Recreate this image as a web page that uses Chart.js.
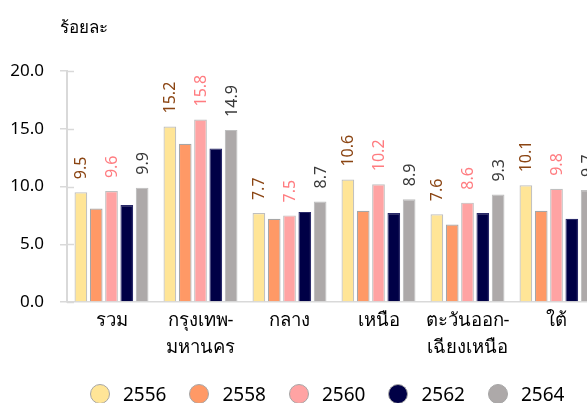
<!DOCTYPE html>
<html>
<head>
<meta charset="utf-8">
<script src="https://cdn.jsdelivr.net/npm/chart.js@4"></script>
<style>
  html, body { margin: 0; padding: 0; background: #fff; overflow: hidden; width: 587px; height: 403px; }
  #wrap { position: absolute; left: 0; top: 0; width: 620px; height: 403px; }
  #unit { position: absolute; left: 60px; top: 13px; font: 17px "Noto Sans", Tahoma, sans-serif; color: #000; }
  #legend { position: absolute; left: 90px; top: 381px; display: flex; align-items: center;
            font: 19px "Noto Sans", Tahoma, sans-serif; color: #000; }
  #legend .it { display: flex; align-items: center; margin-right: 23px; }
  #legend .dot { width: 20px; height: 20px; border-radius: 50%; border: 1px solid #a6a6a6; margin-right: 13px; box-sizing: border-box; }
</style>
</head>
<body>
<div id="wrap"><canvas id="chart" width="620" height="403"></canvas></div>
<div id="unit">ร้อยละ</div>
<div id="legend"></div>
<script>
  // ข้อมูล
  const categories = ["รวม", ["กรุงเทพ-", "มหานคร"], "กลาง", "เหนือ", ["ตะวันออก-", "เฉียงเหนือ"], "ใต้"];
  const years = ["2556", "2558", "2560", "2562", "2564"];
  const v2556 = [9.5, 15.2, 7.7, 10.6, 7.6, 10.1];
  const v2558 = [8.1, 13.7, 7.2, 7.9, 6.7, 7.9];
  const v2560 = [9.6, 15.8, 7.5, 10.2, 8.6, 9.8];
  const v2562 = [8.4, 13.3, 7.8, 7.7, 7.7, 7.2];
  const v2564 = [9.9, 14.9, 8.7, 8.9, 9.3, 9.7];
  const yTicks = [0, 5, 10, 15, 20];

  const fills = ["#FFE597", "#FF9966", "#FFA3A3", "#000046", "#ADA9A9"];
  const borders = ["#BFBFBF", "#A6A6A6", "#BFBFBF", "#2A2A6A", "#BFBFBF"];
  const labelColors = ["#8B4513", null, "#FF7C80", null, "#3A3A3A"];
  const allValues = [v2556, v2558, v2560, v2562, v2564];

  const FONT = '"Noto Sans", Tahoma, sans-serif';

  const datasets = years.map((y, i) => ({
    label: y,
    data: allValues[i],
    backgroundColor: fills[i],
    borderColor: borders[i],
    borderWidth: 1.2,
    categoryPercentage: 0.86,
    barPercentage: 0.83,
    labelColor: labelColors[i],
  }));

  // ป้ายค่าแนวตั้งเหนือแท่ง
  const valueLabels = {
    id: "valueLabels",
    afterDatasetsDraw(chart) {
      const ctx = chart.ctx;
      chart.data.datasets.forEach((ds, di) => {
        if (!ds.labelColor) return;
        const meta = chart.getDatasetMeta(di);
        meta.data.forEach((bar, i) => {
          ctx.save();
          ctx.translate(bar.x, bar.y - 13);
          ctx.rotate(-Math.PI / 2);
          ctx.font = "16px " + FONT;
          ctx.fillStyle = ds.labelColor;
          ctx.textAlign = "left";
          ctx.textBaseline = "middle";
          ctx.fillText(ds.data[i].toFixed(1), 0, 1);
          ctx.restore();
        });
      });
    },
  };

  // ขีดแกน y ให้ยื่นเข้าด้านใน
  const innerTicks = {
    id: "innerTicks",
    afterDraw(chart) {
      const ctx = chart.ctx;
      const ys = chart.scales.y;
      ctx.save();
      ctx.strokeStyle = "#D9D9D9";
      ctx.lineWidth = 1.5;
      yTicks.forEach(t => {
        const py = Math.round(ys.getPixelForValue(t)) + 0.5;
        ctx.beginPath();
        ctx.moveTo(ys.right, py);
        ctx.lineTo(ys.right + 7, py);
        ctx.stroke();
      });
      ctx.restore();
    },
  };

  new Chart(document.getElementById("chart"), {
    type: "bar",
    data: { labels: categories, datasets },
    options: {
      responsive: false,
      animation: false,
      layout: { padding: { top: 71, right: 19, bottom: 0, left: 0 } },
      plugins: { legend: { display: false }, tooltip: { enabled: false } },
      scales: {
        x: {
          grid: { display: false, drawTicks: false },
          border: { color: "#D9D9D9", width: 1.5 },
          ticks: { color: "#000", font: { family: FONT, size: 18.5, lineHeight: 1.42 }, padding: 6, maxRotation: 0, autoSkip: false },
          afterFit(s) { s.height = 101; },
        },
        y: {
          min: 0, max: 20,
          afterBuildTicks(s) { s.ticks = yTicks.map(v => ({ value: v })); },
          grid: { drawOnChartArea: false, color: "#D9D9D9", tickLength: 7, lineWidth: 1.5 },
          border: { color: "#D9D9D9", width: 2 },
          ticks: { color: "#000", font: { family: FONT, size: 17 }, padding: 16, callback: v => Number(v).toFixed(1) },
          afterFit(s) { s.width = 67; },
        },
      },
    },
    plugins: [valueLabels, innerTicks],
  });

  // คำอธิบายสัญลักษณ์
  const legendEl = document.getElementById("legend");
  years.forEach((y, i) => {
    const it = document.createElement("div");
    it.className = "it";
    it.innerHTML = `<span class="dot" style="background:${fills[i]}"></span><span>${y}</span>`;
    legendEl.appendChild(it);
  });
</script>
</body>
</html>
